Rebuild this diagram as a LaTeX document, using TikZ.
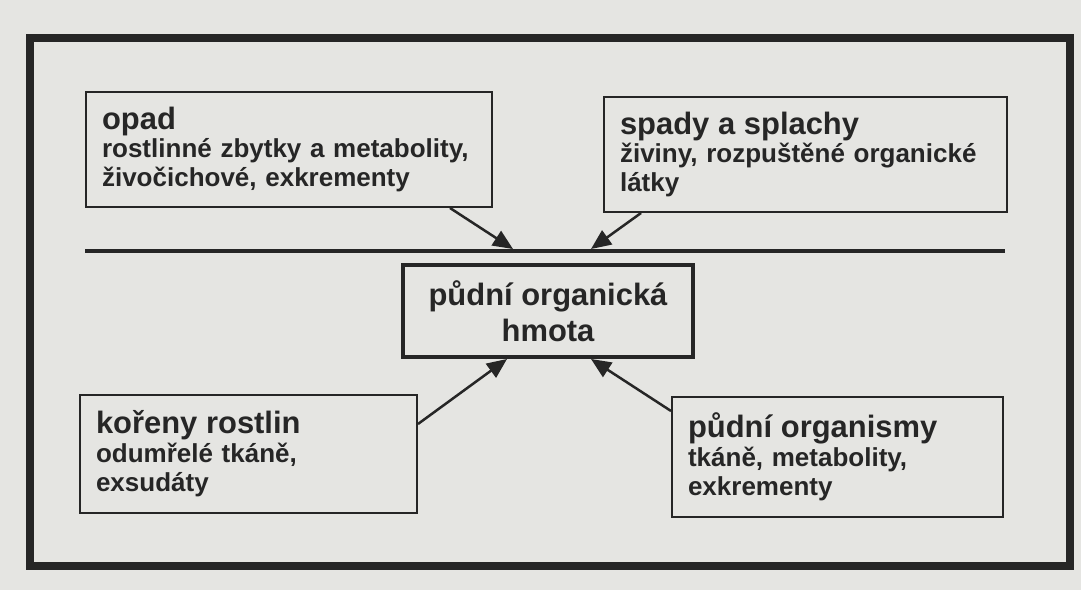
\documentclass[tikz,border=0pt]{standalone}
\usepackage{fontspec}
\setmainfont{Liberation Sans}
\usetikzlibrary{positioning}
\usetikzlibrary{arrows.meta}

\definecolor{paper}{RGB}{229,229,226}
\definecolor{ink}{RGB}{38,38,38}

\newcommand{\headsize}{\fontsize{17.6}{20.5}\selectfont}
\newcommand{\bodysize}{\fontsize{14.8}{16.5}\selectfont}

\begin{document}
\begin{tikzpicture}[x=0.02cm, y=-0.02cm,
  sourceBox/.style={draw=ink, text=ink, line width=0.04cm, inner xsep=0.32cm, inner ysep=0.2cm, align=left, font=\bfseries\bodysize},
  mainBox/.style={draw=ink, text=ink, line width=0.08cm, align=center, font=\bfseries\headsize},
  flowArrow/.style={ink, line width=0.05cm, -{Triangle[length=0.4cm,width=0.34cm]}}]

\fill[paper] (0,0) rectangle (1081,590);
\useasboundingbox (0,0) rectangle (1081,590);

% frame and surface line
\draw[ink, line width=0.16cm] (30,38) rectangle (1070,566);
\draw[ink, line width=0.08cm] (85,251)--(1005,251);

% inputs above the surface
{
\node[sourceBox, minimum width=8.12cm, minimum height=2.3cm, text width=7.48cm] (opad) at (289,149.5)
{{\headsize opad}\\rostlinné zbytky a metabolity,\\živočichové, exkrementy};

\node[sourceBox, minimum width=8.06cm, minimum height=2.3cm, text width=7.42cm] (spady) at (805.5,154.5)
{{\headsize spady a splachy}\\živiny, rozpuštěné organické\\látky};
}

% soil organic matter
\node[mainBox, minimum width=5.8cm, minimum height=1.84cm] (hmota) at (548,311)
{půdní organická\\hmota};

% inputs below the surface
{
\node[sourceBox, minimum width=6.74cm, minimum height=2.36cm, text width=6.1cm] (koreny) at (248.5,454)
{{\headsize kořeny rostlin}\\odumřelé tkáně,\\exsudáty};

\node[sourceBox, minimum width=6.62cm, minimum height=2.4cm, text width=5.98cm] (organismy) at (837.5,457)
{{\headsize půdní organismy}\\tkáně, metabolity,\\exkrementy};
}

% arrows
\draw[flowArrow] ([xshift=-0.86cm]opad.south east) -- ([xshift=2.24cm,yshift=0.28cm]hmota.north west);
\draw[flowArrow] ([xshift=0.76cm]spady.south west) -- ([xshift=3.8cm,yshift=0.28cm]hmota.north west);
\draw[flowArrow] ([yshift=-0.6cm]koreny.north east) -- ([xshift=2.12cm]hmota.south west);
\draw[flowArrow] ([yshift=-0.3cm]organismy.north west) -- ([xshift=3.8cm]hmota.south west);

\end{tikzpicture}
\end{document}
